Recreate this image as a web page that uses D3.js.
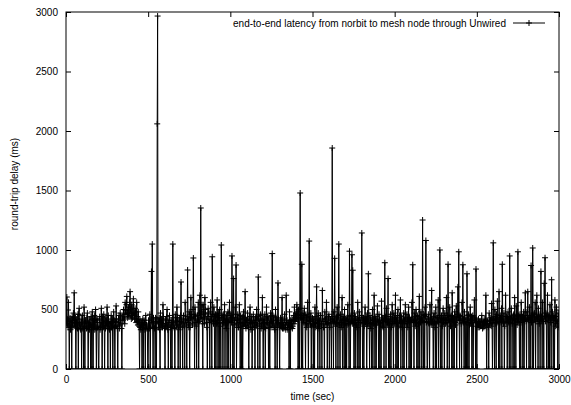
<!DOCTYPE html>
<html><head><meta charset="utf-8">
<script src="https://cdn.jsdelivr.net/npm/d3@7"></script>
<style>
body{margin:0;background:#fff}
svg{display:block}
text{font-family:"Liberation Sans",Arial,Helvetica,sans-serif;font-size:10px;fill:#000}
</style>
</head><body>
<svg id="c" width="571" height="405"></svg>
<script>
// sampling interval of the series (sec)
const sampleStep = 2.5;
// round-trip delay samples (ms), one every sampleStep seconds; 0 = lost packet
const delay = [
410,380,605,420,380,350,560,400,0,370,430,330,350,410,0,440,390,360,470,410,640,380,360,430,0,350,420,390,340,460,0,460,510,370,380,340,330,420,0,390,
450,340,360,0,520,380,0,410,400,360,340,430,470,350,0,390,380,330,420,370,0,440,350,0,480,360,0,410,370,450,330,390,500,340,0,420,410,350,360,0,
0,420,440,330,350,390,510,360,0,440,380,350,460,410,0,370,340,430,400,360,520,390,0,450,370,340,330,400,0,380,450,350,390,420,0,360,480,410,350,0,
400,360,530,420,360,340,0,390,420,450,340,370,470,410,380,340,0,430,440,410,500,460,420,380,560,490,460,540,610,470,430,500,520,440,470,560,650,500,450,420,
540,470,430,510,590,450,470,420,510,480,420,390,560,440,400,370,480,410,360,0,420,350,330,380,390,0,350,420,0,360,410,390,330,0,450,370,370,340,340,0,
0,410,380,340,460,0,350,420,820,390,1050,360,0,430,400,350,340,0,430,380,0,420,2060,2966,400,350,390,430,330,0,470,390,360,420,410,350,540,440,380,360,
340,0,420,380,360,440,500,350,330,0,390,410,450,370,350,0,410,360,0,390,1050,430,380,350,340,0,460,410,400,370,520,430,370,0,330,400,430,360,0,450,
731,400,390,350,0,420,450,380,360,0,560,410,420,370,0,440,832,390,410,350,480,0,350,430,600,460,430,380,370,500,933,420,460,0,520,440,390,360,0,410,
450,390,560,0,400,470,620,430,1353,420,480,540,380,0,540,460,430,380,600,500,470,420,390,350,0,440,510,470,420,390,0,480,560,410,440,0,943,460,400,380,
520,440,0,410,460,0,380,450,580,390,0,470,430,0,500,410,360,0,1042,430,450,380,0,460,390,420,540,0,420,370,340,450,0,390,480,0,400,470,560,410,
0,450,430,390,950,420,0,460,760,0,410,370,520,430,874,0,380,410,460,350,350,420,540,390,0,450,420,0,360,440,0,380,480,360,390,430,650,370,340,410,
410,360,470,420,350,0,390,440,520,380,330,410,440,0,380,350,460,410,350,390,0,430,420,360,500,440,370,0,773,420,410,380,0,460,450,340,360,410,600,380,
0,420,390,350,460,0,340,410,520,370,380,440,430,0,350,390,0,420,470,350,400,450,970,380,360,410,440,350,330,0,500,430,410,370,0,390,723,420,380,350,
0,380,430,360,350,410,600,340,390,370,340,420,460,350,370,330,620,390,410,350,330,380,390,0,480,360,0,410,350,380,420,340,360,410,450,380,520,430,400,450,
470,420,540,480,430,0,500,460,0,510,1479,430,450,0,880,420,0,470,420,390,510,450,380,0,460,410,350,430,560,380,0,440,1075,410,400,370,470,0,360,420,
430,370,0,420,380,0,520,390,350,440,690,380,410,0,470,360,340,410,0,450,450,370,380,0,660,420,400,350,350,0,480,400,420,370,560,430,0,380,390,440,
460,0,350,410,420,380,0,440,1857,420,400,0,480,390,930,410,360,0,440,380,520,430,0,450,1050,370,390,0,460,420,350,390,600,0,410,440,370,0,500,380,
0,410,430,0,370,420,540,380,400,0,990,440,0,390,450,410,960,380,830,420,380,0,470,390,0,440,420,370,350,0,560,410,410,0,480,430,0,390,390,450,
1143,420,0,380,430,0,360,410,520,390,400,440,0,380,470,360,800,420,380,0,450,410,340,390,0,430,500,0,410,380,620,420,0,370,440,0,370,410,530,400,
400,0,460,410,0,390,380,0,570,430,420,360,350,410,0,450,893,400,440,0,510,420,370,390,760,0,420,380,0,440,460,0,350,410,540,380,400,0,470,430,
380,420,620,0,430,390,0,450,500,0,360,410,450,380,580,0,400,440,350,390,0,420,470,0,410,380,540,430,380,0,460,400,350,420,520,0,430,390,0,410,
420,0,560,430,876,390,400,0,470,410,360,440,500,390,0,450,440,0,380,420,610,0,420,390,480,430,0,410,1252,400,0,460,450,0,520,440,1080,390,400,0,
0,420,460,390,380,0,540,430,420,370,660,410,400,380,0,440,470,390,350,0,520,380,0,430,430,400,580,0,390,450,1000,420,0,410,450,0,360,420,510,390,
420,0,470,430,380,410,600,390,0,450,880,420,410,0,520,440,360,400,450,0,640,410,0,430,400,0,480,390,370,440,530,0,420,460,690,430,985,410,0,450,
440,410,380,0,560,420,876,390,420,0,480,430,0,400,390,0,800,420,0,450,460,0,370,410,520,380,410,440,0,390,450,0,360,410,580,430,420,0,840,400,
0,390,380,350,420,370,350,400,400,360,360,410,450,370,340,390,390,350,420,380,360,400,620,380,0,410,400,370,350,0,470,380,380,410,430,360,550,420,0,390,
1060,410,420,0,500,440,380,0,460,390,570,430,400,0,650,420,0,450,430,390,510,0,880,420,400,380,470,0,360,410,620,440,440,390,0,430,480,400,390,0,
950,430,420,0,510,440,380,410,0,450,460,0,600,420,410,0,530,440,370,420,985,400,450,390,0,460,420,0,560,430,390,440,0,420,480,0,410,450,640,420,
400,0,480,430,650,410,420,0,520,450,0,420,870,390,450,0,1017,430,0,460,470,410,560,0,400,440,620,420,430,0,510,460,380,420,0,450,820,410,440,0,
560,420,400,0,720,440,935,400,470,430,0,460,620,410,0,440,450,0,540,420,390,0,750,430,480,410,0,450,430,0,580,440,360,410,520,380,400,0,470,440,
350
];
const xTicks = [0,500,1000,1500,2000,2500,3000];
const yTicks = [0,500,1000,1500,2000,2500,3000];
const xTitle = "time (sec)";
const yTitle = "round-trip delay (ms)";
const legendText = "end-to-end latency from norbit to mesh node through Unwired";

const svg = d3.select("#c");
const L = 66, R = 559, T = 12, B = 369;
const x = d3.scaleLinear().domain([0, 3000]).range([L, R]);
const y = d3.scaleLinear().domain([0, 3000]).range([B, T]);

svg.append("defs").append("clipPath").attr("id","clip")
  .append("rect").attr("x",L).attr("y",T).attr("width",R-L).attr("height",B-T);

// data
const g = svg.append("g").attr("clip-path","url(#clip)");
const line = d3.line().x((d,i)=>x(i*sampleStep)).y(d=>y(d));
g.append("path").datum(delay).attr("d",line)
  .attr("fill","none").attr("stroke","#000").attr("stroke-width",1);
const pts = delay.map((d,i)=>{const px=x(i*sampleStep), py=y(d);
  return `M${px-3},${py}h6M${px},${py-3}v6`;}).join("");
g.append("path").attr("d",pts).attr("fill","none").attr("stroke","#000").attr("stroke-width",1);

// axes
function style(sel){sel.select(".domain").remove();
  sel.selectAll(".tick line").attr("stroke","#000").attr("stroke-width",1);}
svg.append("g").attr("transform",`translate(0,${B})`)
  .call(d3.axisBottom(x).tickValues(xTicks).tickFormat(d3.format("d")).tickSizeInner(-5).tickSizeOuter(0).tickPadding(7))
  .call(style);
svg.append("g").attr("transform",`translate(${L},0)`)
  .call(d3.axisLeft(y).tickValues(yTicks).tickFormat(d3.format("d")).tickSizeInner(-5).tickSizeOuter(0).tickPadding(8))
  .call(style);
svg.append("g").attr("transform",`translate(0,${T})`)
  .call(d3.axisTop(x).tickValues(xTicks).tickFormat("").tickSizeInner(-5).tickSizeOuter(0))
  .call(style);
svg.append("g").attr("transform",`translate(${R},0)`)
  .call(d3.axisRight(y).tickValues(yTicks).tickFormat("").tickSizeInner(-5).tickSizeOuter(0))
  .call(style);
svg.selectAll("g").filter(function(){return this.getAttribute("font-size");})
  .attr("font-size",null).attr("font-family",null);
svg.selectAll(".tick text").attr("fill","#000");

// frame
svg.append("rect").attr("x",L).attr("y",T).attr("width",R-L).attr("height",B-T)
  .attr("fill","none").attr("stroke","#000").attr("stroke-width",1);

// titles
svg.append("text").attr("x",(L+R)/2).attr("y",400).attr("text-anchor","middle").text(xTitle);
svg.append("text").attr("transform","translate(18,184) rotate(-90)").attr("text-anchor","middle").text(yTitle);

// legend
svg.append("text").attr("x",506).attr("y",26.5).attr("text-anchor","end").text(legendText);
svg.append("line").attr("x1",513).attr("x2",545).attr("y1",23).attr("y2",23).attr("stroke","#000");
svg.append("path").attr("d",`M526,23h6M529,20v6`).attr("stroke","#000").attr("fill","none");
</script>
</body></html>
